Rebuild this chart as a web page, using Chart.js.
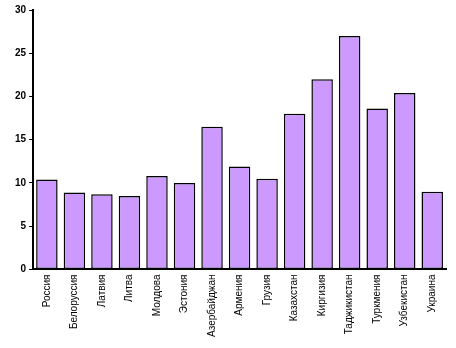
<!DOCTYPE html>
<html>
<head>
<meta charset="utf-8">
<script src="https://cdn.jsdelivr.net/npm/chart.js@4/dist/chart.umd.min.js"></script>
<style>
    html, body { margin: 0; padding: 0; background: #fff; }
    #wrap { width: 456px; height: 348px; }
</style>
</head>
<body>
<div id="wrap"><canvas id="chart1" width="456" height="348"></canvas></div>
<script>
var countries = [
    "Россия", "Белоруссия", "Латвия", "Литва", "Молдова", "Эстония",
    "Азербайджан", "Армения", "Грузия", "Казахстан", "Киргизия",
    "Таджикистан", "Туркмения", "Узбекистан", "Украина"
];
var values = [10.4, 8.9, 8.7, 8.5, 10.8, 10.0, 16.5, 11.9, 10.5, 18.0, 22.0, 27.0, 18.6, 20.4, 9.0];
var yTicks = [0, 5, 10, 15, 20, 25, 30];

window.onload = function () {
    var ctx1 = document.getElementById('chart1').getContext('2d');

    window.theChart1 = new Chart(ctx1, {
        type: 'bar',
        data: {
            labels: countries,
            datasets: [{
                data: values,
                backgroundColor: "#CC99FF",
                borderColor: "#000000",
                borderWidth: 1.5,
                borderSkipped: false,
                barPercentage: 0.78,
                categoryPercentage: 1.0
            }]
        },
        options: {
            responsive: false,
            animation: false,
            events: [],
            layout: {
                padding: { top: 10, right: 10, left: 12, bottom: 6 }
            },
            plugins: {
                legend: { display: false },
                tooltip: { enabled: false }
            },
            scales: {
                x: {
                    grid: { display: false, drawTicks: false },
                    border: { color: "#000", width: 2 },
                    ticks: {
                        color: "#000",
                        font: { family: "'Liberation Sans', Arial", size: 10 },
                        minRotation: 90,
                        maxRotation: 90,
                        autoSkip: false,
                        padding: 5
                    }
                },
                y: {
                    min: 0,
                    max: 30,
                    afterBuildTicks: function (axis) {
                        axis.ticks = yTicks.map(function (v) { return { value: v }; });
                    },
                    grid: {
                        drawOnChartArea: false,
                        drawTicks: true,
                        tickLength: 4,
                        color: "#000",
                        lineWidth: 1
                    },
                    border: { color: "#000", width: 2 },
                    ticks: {
                        color: "#000",
                        font: { family: "'Liberation Sans', Arial", size: 10, weight: 'bold' },
                        padding: 3
                    }
                }
            }
        }
    });
};
</script>
</body>
</html>
